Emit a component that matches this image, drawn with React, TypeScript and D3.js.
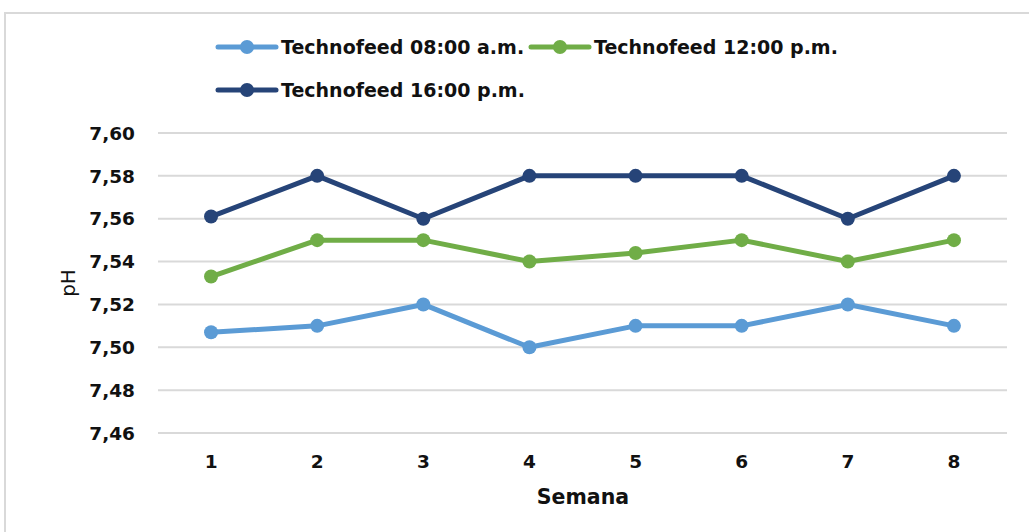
import React from "react";
import * as d3 from "d3";

const weeks = ["1", "2", "3", "4", "5", "6", "7", "8"];
const am08 = [7.507, 7.51, 7.52, 7.5, 7.51, 7.51, 7.52, 7.51];
const pm12 = [7.533, 7.55, 7.55, 7.54, 7.544, 7.55, 7.54, 7.55];
const pm16 = [7.561, 7.58, 7.56, 7.58, 7.58, 7.58, 7.56, 7.58];
const yTicks = [7.46, 7.48, 7.5, 7.52, 7.54, 7.56, 7.58, 7.6];

const series = [
  { name: "Technofeed 08:00 a.m.", values: am08, color: "#5b9bd5" },
  { name: "Technofeed 12:00 p.m.", values: pm12, color: "#70ad47" },
  { name: "Technofeed 16:00 p.m.", values: pm16, color: "#264478" },
];

const W = 1029;
const H = 532;
const font = "'DejaVu Sans', sans-serif";

const App = () => {
  const x = d3.scaleBand().domain(weeks).range([158, 1007]);
  const y = d3.scaleLinear().domain([7.46, 7.6]).range([433, 133]);
  const cx = (i: number) => x(weeks[i])! + x.bandwidth() / 2;
  const line = d3
    .line<number>()
    .x((d, i) => cx(i))
    .y((d) => y(d));

  // legend slots: two in first row, one in second
  const legendPos = [
    { lx: 218, ly: 47 },
    { lx: 531, ly: 47 },
    { lx: 218, ly: 90 },
  ];

  return (
    <svg
      width={W}
      height={H}
      style={{ position: "absolute", left: 0, top: 0, background: "#fff" }}
    >
      <rect x={5} y={13} width={W + 10} height={H} fill="#fff" stroke="#d9d9d9" strokeWidth={2} />

      {/* grid + y ticks */}
      {yTicks.map((t) => (
        <g key={t}>
          <line x1={158} x2={1007} y1={y(t)} y2={y(t)} stroke="#d9d9d9" strokeWidth={2} />
          <text
            x={135}
            y={y(t)}
            dy="0.36em"
            textAnchor="end"
            fontFamily={font}
            fontWeight="bold"
            fontSize={18.5}
            fill="#111"
          >
            {t.toFixed(2).replace(".", ",")}
          </text>
        </g>
      ))}

      {/* x tick labels */}
      {weeks.map((w, i) => (
        <text
          key={w}
          x={cx(i)}
          y={468}
          textAnchor="middle"
          fontFamily={font}
          fontWeight="bold"
          fontSize={18.5}
          fill="#111"
        >
          {w}
        </text>
      ))}

      <text x={583} y={504} textAnchor="middle" fontFamily={font} fontWeight="bold" fontSize={20.5} fill="#111">
        Semana
      </text>
      <text
        transform={`translate(75,283) rotate(-90)`}
        textAnchor="middle"
        fontFamily={font}
        fontSize={20}
        fill="#111"
      >
        pH
      </text>

      {/* series */}
      {series.map((s) => (
        <g key={s.name}>
          <path d={line(s.values)!} fill="none" stroke={s.color} strokeWidth={5} strokeLinejoin="round" />
          {s.values.map((v, i) => (
            <circle key={i} cx={cx(i)} cy={y(v)} r={7} fill={s.color} />
          ))}
        </g>
      ))}

      {/* legend */}
      {series.map((s, i) => {
        const { lx, ly } = legendPos[i];
        return (
          <g key={s.name}>
            <line x1={lx} x2={lx + 58} y1={ly} y2={ly} stroke={s.color} strokeWidth={5} strokeLinecap="round" />
            <circle cx={lx + 29} cy={ly} r={7} fill={s.color} />
            <text
              x={lx + 63}
              y={ly}
              dy="0.36em"
              fontFamily={font}
              fontWeight="bold"
              fontSize={19}
              fill="#111"
            >
              {s.name}
            </text>
          </g>
        );
      })}
    </svg>
  );
};

export default App;
